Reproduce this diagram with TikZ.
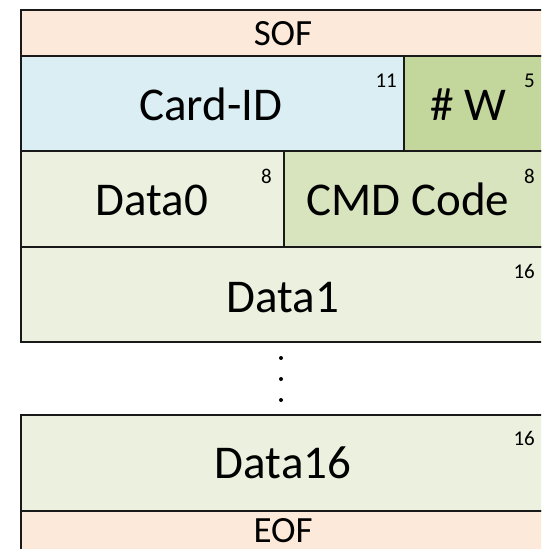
\documentclass[tikz,border=0pt]{standalone}
\usepackage{fontspec}
\setmainfont{Carlito}
\begin{document}
\begin{tikzpicture}[x=1pt,y=-1pt,
  cell/.style={draw=black!90,line width=2pt},
  big/.style={inner sep=0pt,anchor=base,font=\fontsize{47}{50}\selectfont},
  mid/.style={inner sep=0pt,anchor=base,font=\fontsize{37}{40}\selectfont},
  sup/.style={inner sep=0pt,anchor=base east,font=\fontsize{21}{24}\selectfont},
  dotn/.style={circle,fill=black,inner sep=0pt,minimum size=4pt}]
\definecolor{peach}{HTML}{FDE9D9}
\definecolor{lblue}{HTML}{DAEEF3}
\definecolor{wgreen}{HTML}{C3D69B}
\definecolor{lgreen}{HTML}{EBF1DE}
\definecolor{mgreen}{HTML}{D7E4BD}
\useasboundingbox (0,0) rectangle (541,549);
\clip (0,0) rectangle (541,549);
% boxes
\filldraw[cell,fill=peach] (21,10) rectangle (545,56);
\filldraw[cell,fill=lblue] (21,56) rectangle (404,151);
\filldraw[cell,fill=wgreen] (404,56) rectangle (545,151);
\filldraw[cell,fill=lgreen] (21,151) rectangle (284,247);
\filldraw[cell,fill=mgreen] (284,151) rectangle (545,247);
\filldraw[cell,fill=lgreen] (21,247) rectangle (545,342);
\filldraw[cell,fill=lgreen] (21,415) rectangle (545,511);
\filldraw[cell,fill=peach] (21,511) rectangle (545,580);
% texts
\node[mid] (sof) at (283,45) {SOF};
\node[big] (cardid) at (211,120) {Card-ID};
\node[big] (nw) at (468,120) {\# W};
\node[big] (data0) at (152,215) {Data0};
\node[big] (cmd) at (408,215) {CMD Code};
\node[big] (data1) at (283,312) {Data1};
\node[big] (data16) at (283,478) {Data16};
\node[mid] (eof) at (283,542) {EOF};
% bit widths
\node[sup] (s11) at (397,87) {11};
\node[sup] (s5) at (535,87) {5};
\node[sup] (s8a) at (272,183) {8};
\node[sup] (s8b) at (535,183) {8};
\node[sup] (s16a) at (535,278) {16};
\node[sup] (s16b) at (535,445) {16};
% dots
\node[dotn] (d1) at (281,358) {};
\node[dotn] (d2) at (281,379) {};
\node[dotn] (d3) at (281,400) {};
\end{tikzpicture}
\end{document}
